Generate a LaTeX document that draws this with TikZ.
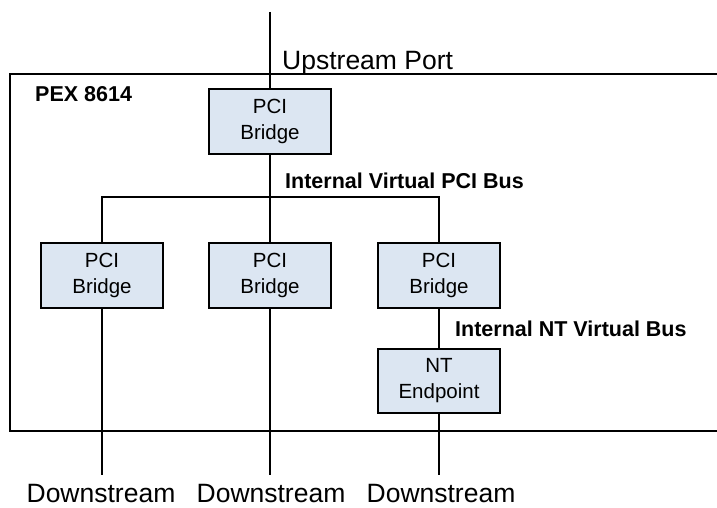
\documentclass[tikz,border=0pt]{standalone}
\usepackage{fontspec}
\setmainfont{Liberation Sans}
\definecolor{boxfill}{HTML}{DCE6F2}
\begin{document}
\begin{tikzpicture}[x=1pt,y=-1pt,
  bridge/.style={draw=black, line width=1.8pt, fill=boxfill, minimum width=122pt, minimum height=65pt, inner sep=0pt, align=center, font=\fontsize{20.5}{26}\selectfont},
  conn/.style={draw=black, line width=1.5pt},
  biglabel/.style={inner sep=0pt, font=\fontsize{26.5}{30}\selectfont},
  buslabel/.style={inner sep=0pt, font=\fontsize{21.5}{24}\selectfont\bfseries}]
\useasboundingbox (0,0) rectangle (717,508);
% outer frame (right side beyond the picture)
\draw[line width=1.6pt] (717,74) -- (10,74) -- (10,431) -- (717,431);
\node[buslabel, anchor=base west] (pex) at (35,101.5) {PEX 8614};
% nodes
\node[bridge] (top) at (270,121.5) {PCI\\Bridge};
\node[bridge] (b1) at (102,275.5) {PCI\\Bridge};
\node[bridge] (b2) at (270,275.5) {PCI\\Bridge};
\node[bridge] (b3) at (439,275.5) {PCI\\Bridge};
\node[bridge, minimum height=64pt] (nt) at (439,381) {NT\\Endpoint};
\coordinate (up) at (270,12);
\coordinate (bus) at (270,197);
\coordinate (d1) at (102,475);
\coordinate (d2) at (270,475);
\coordinate (d3) at (439,475);
% labels
\node[biglabel, anchor=base west] (uplab) at (282,70) {Upstream Port};
\node[buslabel, anchor=base west] (vbus) at (285,188) {Internal Virtual PCI Bus};
\node[buslabel, anchor=base west] (ntbus) at (455,336) {Internal NT Virtual Bus};
\node[biglabel, anchor=base] (dl1) at (101,502) {Downstream};
\node[biglabel, anchor=base] (dl2) at (271,502) {Downstream};
\node[biglabel, anchor=base] (dl3) at (441,502) {Downstream};
% connectors
\draw[conn] (up) -- (top.north);
\draw[conn] (top.south) -- (bus);
\draw[conn] (b1.north) -- (b1.north |- bus) -- (b3.north |- bus) -- (b3.north);
\draw[conn] (bus) -- (b2.north);
\draw[conn] (b3.south) -- (nt.north);
\draw[conn] (b1.south) -- (d1);
\draw[conn] (b2.south) -- (d2);
\draw[conn] (nt.south) -- (d3);
\end{tikzpicture}
\end{document}
